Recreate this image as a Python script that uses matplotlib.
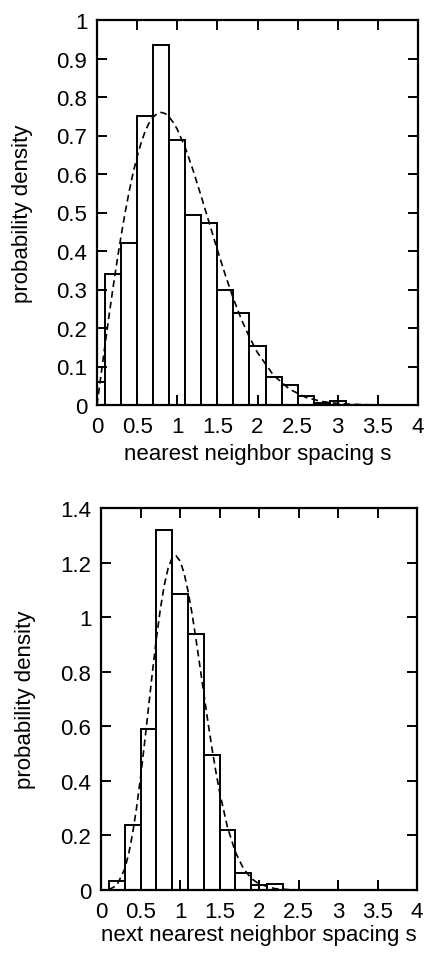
import matplotlib
matplotlib.use("Agg")
import matplotlib.pyplot as plt

plt.rcParams["font.family"] = ["Liberation Sans", "DejaVu Sans"]

# histogram bins: width 0.2, centred on multiples of 0.2
nn_centers = [0.0, 0.2, 0.4, 0.6, 0.8, 1.0, 1.2, 1.4, 1.6, 1.8, 2.0, 2.2, 2.4, 2.6, 2.8, 3.0]
nn_heights = [0.06, 0.339, 0.422, 0.750, 0.935, 0.689, 0.494, 0.473, 0.298, 0.238,
              0.154, 0.073, 0.052, 0.023, 0.004, 0.010]

nnn_centers = [0.2, 0.4, 0.6, 0.8, 1.0, 1.2, 1.4, 1.6, 1.8, 2.0, 2.2]
nnn_heights = [0.033, 0.238, 0.589, 1.319, 1.083, 0.940, 0.495, 0.219, 0.061, 0.018, 0.021]

# dashed reference curves
nn_curve_s = [0.0, 0.05, 0.1, 0.15, 0.2, 0.25, 0.3, 0.35, 0.4, 0.45, 0.5, 0.55, 0.6,
              0.65, 0.7, 0.75, 0.8, 0.85, 0.9, 0.95, 1.0, 1.1, 1.2, 1.3, 1.4, 1.5,
              1.6, 1.7, 1.8, 1.9, 2.0, 2.2, 2.4, 2.6, 2.8, 3.0, 3.2, 3.4, 3.6, 4.0]
nn_curve_p = [0.0, 0.078, 0.156, 0.232, 0.305, 0.374, 0.439, 0.499, 0.554, 0.603,
              0.645, 0.681, 0.711, 0.733, 0.748, 0.757, 0.760, 0.757, 0.748, 0.734,
              0.716, 0.668, 0.608, 0.541, 0.472, 0.403, 0.337, 0.276, 0.222, 0.176,
              0.136, 0.077, 0.041, 0.020, 0.009, 0.004, 0.0016, 0.0005, 0.0001, 0.0]

nnn_curve_s = [0.1, 0.2, 0.3, 0.35, 0.4, 0.45, 0.5, 0.55, 0.6, 0.65, 0.7, 0.75, 0.8,
               0.85, 0.9, 0.95, 1.0, 1.05, 1.1, 1.15, 1.2, 1.25, 1.3, 1.35, 1.4,
               1.45, 1.5, 1.6, 1.7, 1.8, 1.9, 2.0, 2.2, 2.4, 2.6]
nnn_curve_p = [0.001, 0.017, 0.077, 0.132, 0.207, 0.301, 0.412, 0.535, 0.665, 0.796,
               0.919, 1.027, 1.116, 1.180, 1.217, 1.225, 1.206, 1.163, 1.098, 1.017,
               0.924, 0.824, 0.723, 0.623, 0.528, 0.440, 0.361, 0.231, 0.140, 0.080,
               0.043, 0.022, 0.005, 0.001, 0.0]

x_ticks = [0, 0.5, 1, 1.5, 2, 2.5, 3, 3.5, 4]
x_ticklabels = ["0", "0.5", "1", "1.5", "2", "2.5", "3", "3.5", "4"]
nn_yticks = [0, 0.1, 0.2, 0.3, 0.4, 0.5, 0.6, 0.7, 0.8, 0.9, 1]
nn_yticklabels = ["0", "0.1", "0.2", "0.3", "0.4", "0.5", "0.6", "0.7", "0.8", "0.9", "1"]
nnn_yticks = [0, 0.2, 0.4, 0.6, 0.8, 1.0, 1.2, 1.4]
nnn_yticklabels = ["0", "0.2", "0.4", "0.6", "0.8", "1", "1.2", "1.4"]

W, H = 426, 954
fig = plt.figure(figsize=(W / 100, H / 100), dpi=100)


def px_axes(left, top, right, bottom):
    return fig.add_axes([left / W, 1 - bottom / H, (right - left) / W, (bottom - top) / H])


def style(ax, ylim, yticks, yticklabels, xlabel, ylab_x, xlab_y):
    ax.set_xlim(0, 4)
    ax.set_ylim(*ylim)
    ax.set_xticks(x_ticks)
    ax.set_xticklabels(x_ticklabels)
    ax.set_yticks(yticks)
    ax.set_yticklabels(yticklabels)
    ax.tick_params(direction="in", length=7, width=1.4, top=True, right=True,
                   labelsize=16)
    ax.tick_params(axis="x", pad=8)
    ax.tick_params(axis="y", pad=7)
    for sp in ax.spines.values():
        sp.set_linewidth(1.6)
    ax.set_xlabel(xlabel, fontsize=16)
    ax.set_ylabel("probability density", fontsize=16)
    ax.yaxis.set_label_coords(ylab_x, 0.5)
    ax.xaxis.set_label_coords(0.5, xlab_y)


# top panel: nearest neighbor spacing
ax1 = px_axes(97, 21, 418, 406)
ax1.bar(nn_centers, nn_heights, width=0.2, color="white", edgecolor="black",
        linewidth=1.4)
ax1.plot(nn_curve_s, nn_curve_p, color="black", linestyle=(0, (4, 2.5)), linewidth=1.2)
style(ax1, (0, 1), nn_yticks, nn_yticklabels, "nearest neighbor spacing s", -0.20, -0.098)

# bottom panel: next nearest neighbor spacing
ax2 = px_axes(101, 509, 417, 891)
ax2.bar(nnn_centers, nnn_heights, width=0.2, color="white", edgecolor="black",
        linewidth=1.4)
ax2.plot(nnn_curve_s, nnn_curve_p, color="black", linestyle=(0, (4, 2.5)), linewidth=1.2)
style(ax2, (0, 1.4), nnn_yticks, nnn_yticklabels, "next nearest neighbor spacing s",
      -0.205, -0.088)

fig.savefig("out.png", dpi=100)
